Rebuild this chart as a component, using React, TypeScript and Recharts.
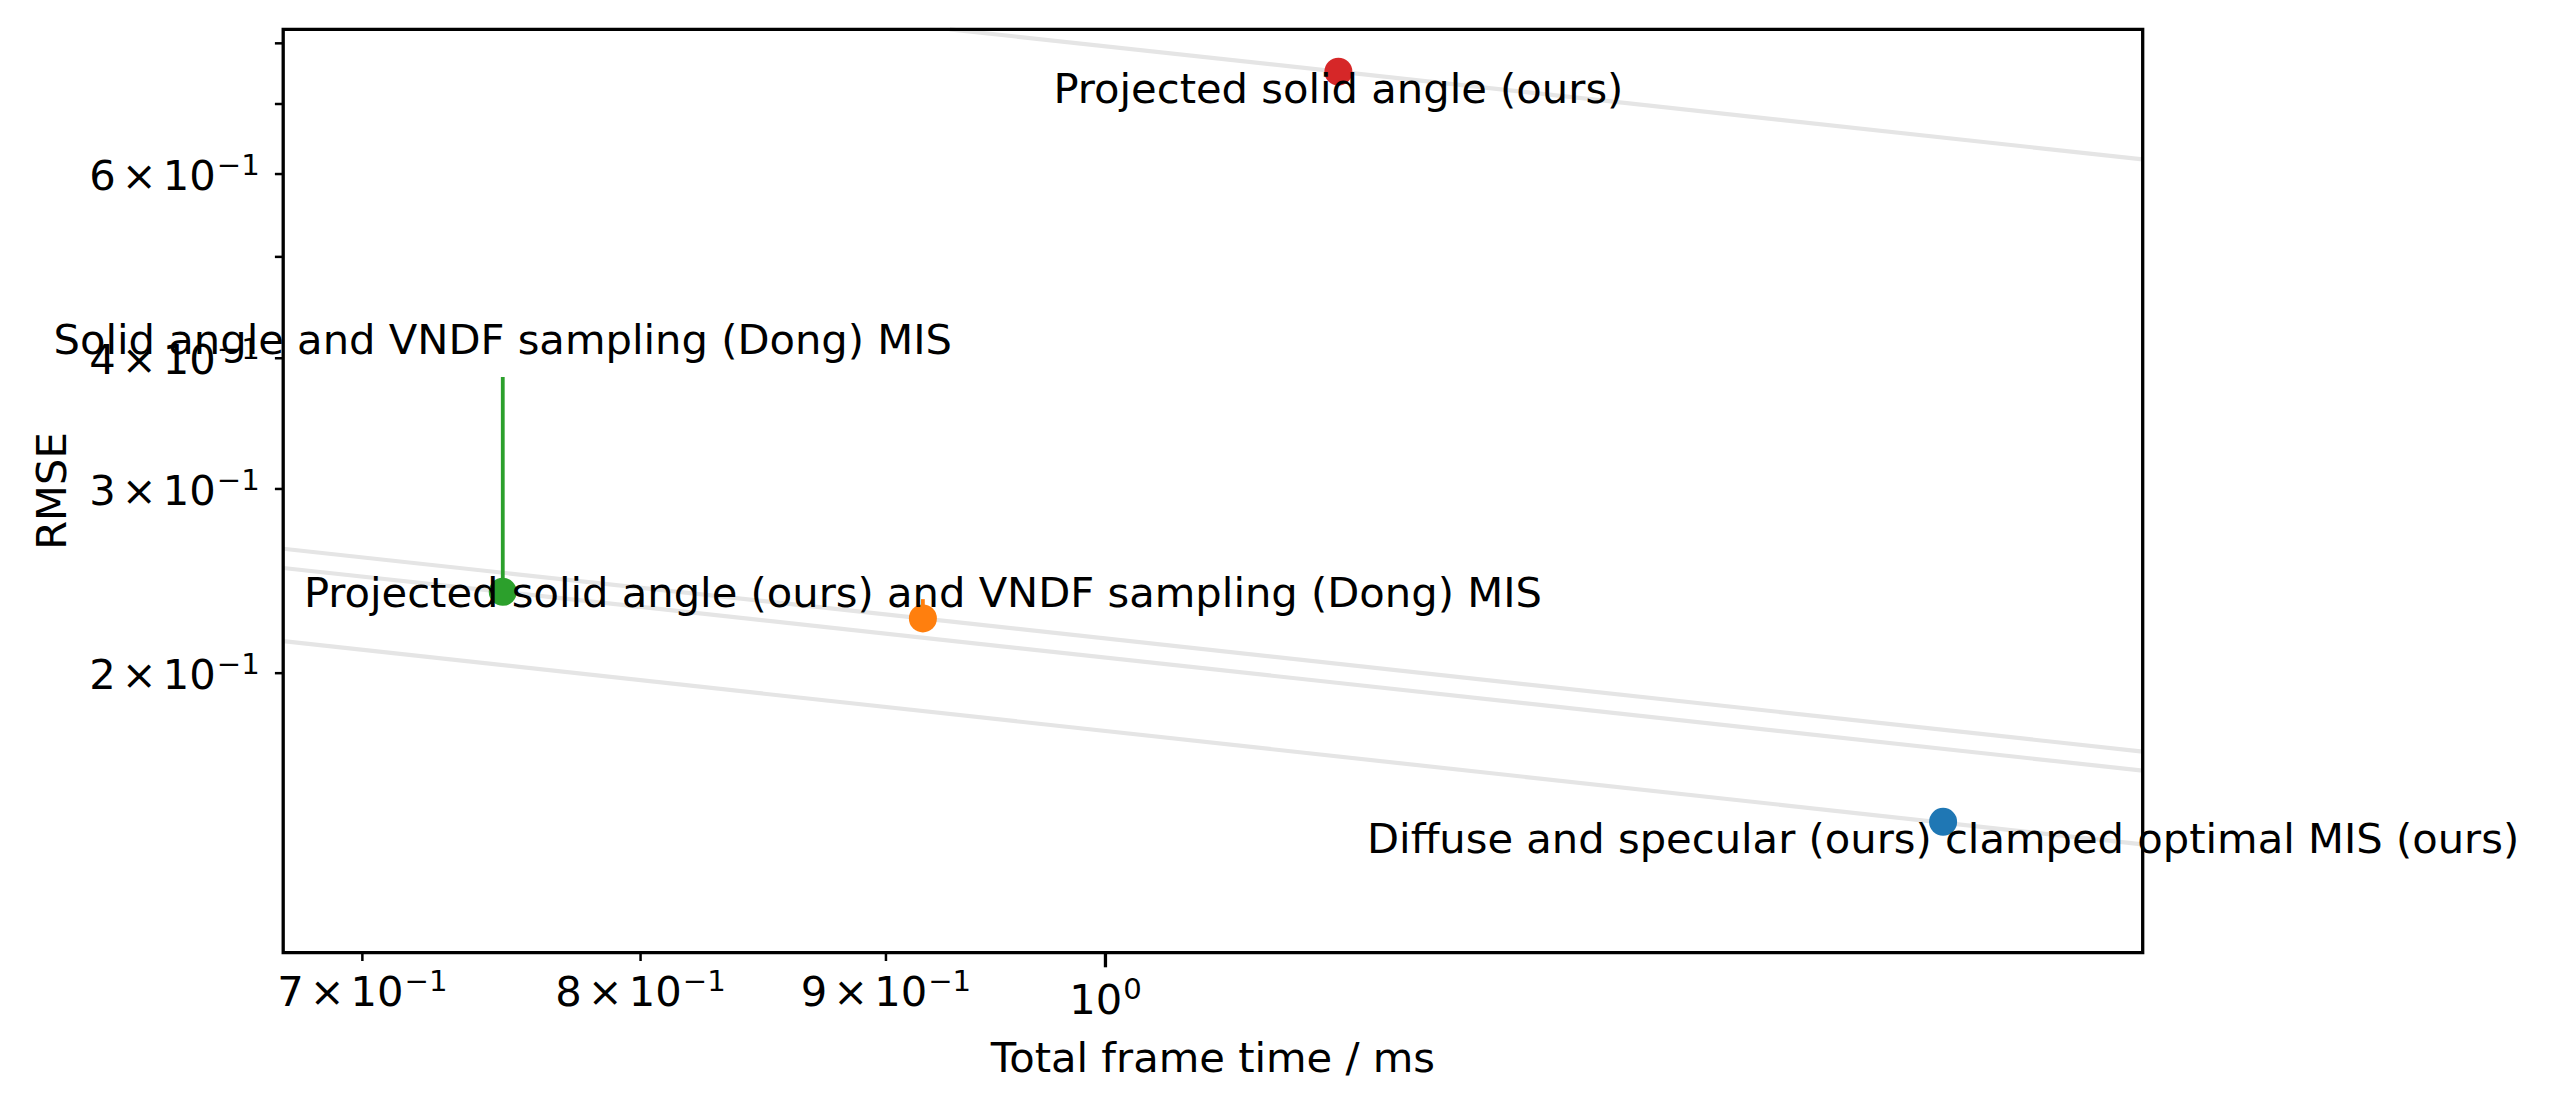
import React from 'react';
import { ScatterChart, Scatter, XAxis, YAxis, Label } from 'recharts';

const FONT = 'DejaVu Sans';
const FS = 41.67;
const SUP_FS = 29.17;

// Methods (one point each)
const methodNames = [
  'Diffuse and specular (ours) clamped optimal MIS (ours)',
  'Projected solid angle (ours) and VNDF sampling (Dong) MIS',
  'Solid angle and VNDF sampling (Dong) MIS',
  'Projected solid angle (ours)',
];
const frameTimeMs = [1.4949, 0.9161, 0.7488, 1.1183];
const rmseValues = [0.1442, 0.2256, 0.2392, 0.7516];
const pointColors = ['#1f77b4', '#ff7f0e', '#2ca02c', '#d62728'];

// Label anchors (text top at this RMSE, centred on the frame time)
const labelRmse = [0.1442, 0.2481, 0.4331, 0.7516];
// Connector lines from point up towards its label (null = none)
const connectorTopRmse: (number | null)[] = [null, 0.2354, 0.3838, null];

// Axis ranges
const xDomain = [0.6739, 1.6452];
const yDomain = [0.1081, 0.8251];

// Tick positions and labels
const xTicks = [0.7, 0.8, 0.9, 1.0];
const xTickMantissa = ['7', '8', '9', ''];
const xTickExponent = ['\u22121', '\u22121', '\u22121', '0'];
const xTickMajor = [false, false, false, true];

const yTicks = [0.2, 0.3, 0.4, 0.5, 0.6, 0.7, 0.8];
const yTickMantissa = ['2', '3', '4', '', '6', '', ''];
const yTickExponent = ['\u22121', '\u22121', '\u22121', '', '\u22121', '', ''];

// Grey iso-efficiency guide lines, endpoints
const guideStartX = [0.6739, 0.6739, 0.6739, 0.928];
const guideStartY = [0.2146, 0.263, 0.2521, 0.8251];
const guideEndX = [1.6452, 1.6452, 1.6452, 1.6452];
const guideEndY = [0.1372, 0.1683, 0.1614, 0.6197];

const Empty = () => <g />;

const MathLabel = ({ x, y, mant, exp, anchor }: any) => (
  <text x={x} y={y} textAnchor={anchor} fontFamily={FONT} fontSize={FS} fill="#000">
    {mant !== '' && <tspan>{mant}</tspan>}
    {mant !== '' && <tspan dx={6}>{'\u00d7'}</tspan>}
    <tspan dx={mant !== '' ? 6 : 0}>10</tspan>
    <tspan dx={1} dy={-15} fontSize={SUP_FS}>{exp}</tspan>
  </text>
);

const XTick = (props: any) => {
  const { x, y, payload } = props;
  const i = xTicks.indexOf(payload.value);
  if (i < 0) return <g />;
  const major = xTickMajor[i];
  const len = major ? 14.6 : 8.3;
  return (
    <g>
      <line x1={x} x2={x} y1={y} y2={y + len} stroke="#000" strokeWidth={major ? 3.3 : 2.5} />
      <MathLabel x={x} y={y + (major ? 61 : 53)} mant={xTickMantissa[i]} exp={xTickExponent[i]} anchor="middle" />
    </g>
  );
};

const YTick = (props: any) => {
  const { x, y, payload } = props;
  const i = yTicks.indexOf(payload.value);
  if (i < 0) return <g />;
  return (
    <g>
      <line x1={x} x2={x - 8.3} y1={y} y2={y} stroke="#000" strokeWidth={2.5} />
      {yTickMantissa[i] !== '' && (
        <MathLabel x={x - 23.5} y={y + 16} mant={yTickMantissa[i]} exp={yTickExponent[i]} anchor="end" />
      )}
    </g>
  );
};

const XLabel = (props: any) => {
  const vb = props.viewBox;
  return (
    <text x={vb.x + vb.width / 2} y={vb.y + 119} textAnchor="middle" fontFamily={FONT} fontSize={FS} fill="#000">
      Total frame time / ms
    </text>
  );
};

const YLabel = (props: any) => {
  const vb = props.viewBox;
  const cx = vb.x + vb.width - 217;
  const cy = vb.y + vb.height / 2;
  return (
    <text x={cx} y={cy} transform={`rotate(-90 ${cx} ${cy})`} textAnchor="middle" fontFamily={FONT} fontSize={FS} fill="#000">
      RMSE
    </text>
  );
};

const TextShape = (props: any) => {
  const { cx, cy, payload } = props;
  return (
    <text x={cx} y={cy + 31.7} textAnchor="middle" fontFamily={FONT} fontSize={FS} fill="#000">
      {payload.text}
    </text>
  );
};

const makeDot = (color: string) => (props: any) => <circle cx={props.cx} cy={props.cy} r={14} fill={color} />;

export default function App() {
  const guides = guideStartX.map((_, i) => [
    { x: guideStartX[i], y: guideStartY[i] },
    { x: guideEndX[i], y: guideEndY[i] },
  ]);
  const labels = methodNames.map((t, i) => ({ x: frameTimeMs[i], y: labelRmse[i], text: t }));
  const frame = [
    { x: xDomain[0], y: yDomain[0] },
    { x: xDomain[1], y: yDomain[0] },
    { x: xDomain[1], y: yDomain[1] },
    { x: xDomain[0], y: yDomain[1] },
    { x: xDomain[0], y: yDomain[0] },
  ];

  return (
    <div style={{ position: 'absolute', left: 0, top: 0, width: 2549, height: 1110, background: '#fff' }}>
      <ScatterChart width={2549} height={1110} margin={{ top: 29.3, right: 406.3, left: 83.2, bottom: 57.3 }}>
        <XAxis
          type="number"
          dataKey="x"
          scale="log"
          domain={xDomain}
          ticks={xTicks}
          interval={0}
          height={100}
          tickSize={0}
          tickMargin={0}
          tickLine={false}
          axisLine={false}
          tick={<XTick />}
        >
          <Label content={<XLabel />} />
        </XAxis>
        <YAxis
          type="number"
          dataKey="y"
          scale="log"
          domain={yDomain}
          ticks={yTicks}
          interval={0}
          width={200}
          tickSize={0}
          tickMargin={0}
          tickLine={false}
          axisLine={false}
          tick={<YTick />}
        >
          <Label content={<YLabel />} />
        </YAxis>
        {guides.map((g, i) => (
          <Scatter
            key={'g' + i}
            data={g}
            line={{ stroke: '#e5e5e5', strokeWidth: 4.2 }}
            lineType="joint"
            shape={<Empty />}
            isAnimationActive={false}
          />
        ))}
        {connectorTopRmse.map((top, i) =>
          top === null ? null : (
            <Scatter
              key={'c' + i}
              data={[
                { x: frameTimeMs[i], y: rmseValues[i] },
                { x: frameTimeMs[i], y: top },
              ]}
              line={{ stroke: pointColors[i], strokeWidth: 3.8 }}
              lineType="joint"
              shape={<Empty />}
              isAnimationActive={false}
            />
          )
        )}
        {methodNames.map((_, i) => (
          <Scatter
            key={'p' + i}
            data={[{ x: frameTimeMs[i], y: rmseValues[i] }]}
            shape={makeDot(pointColors[i])}
            isAnimationActive={false}
          />
        ))}
        <Scatter
          data={frame}
          line={{ stroke: '#000', strokeWidth: 3.3, strokeLinejoin: 'miter', strokeLinecap: 'square' }}
          lineType="joint"
          shape={<Empty />}
          isAnimationActive={false}
        />
        <Scatter data={labels} shape={TextShape} isAnimationActive={false} />
      </ScatterChart>
    </div>
  );
}
